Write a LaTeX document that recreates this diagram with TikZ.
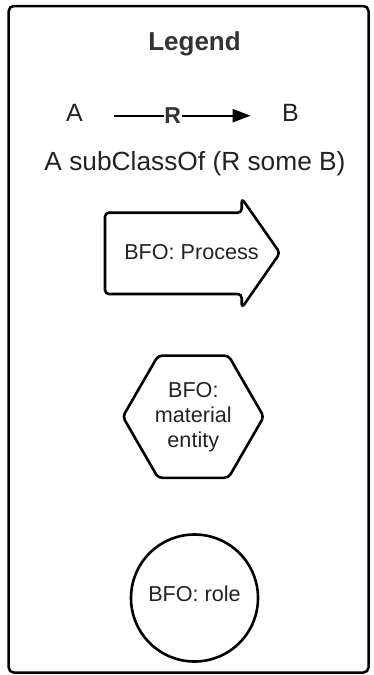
\documentclass[tikz,border=0pt]{standalone}
\usepackage{fontspec}
\setmainfont{Liberation Sans}
\usetikzlibrary{arrows.meta}
\definecolor{txt}{HTML}{222222}
\definecolor{ttl}{HTML}{333333}
\tikzset{
  frame/.style={draw=black, line width=2.5pt, rounded corners=5pt},
  shapeline/.style={draw=black, line width=2.6pt, rounded corners=4pt, line join=round},
  lbl/.style={inner sep=0pt, anchor=base, text=txt, font=\fontsize{21.6}{25}\selectfont},
  big/.style={inner sep=0pt, anchor=base, text=txt, font=\fontsize{25}{30}\selectfont},
  rel/.style={line width=2pt, -{Triangle[length=18pt,width=13pt]}}
}
\begin{document}
\begin{tikzpicture}[x=1pt,y=-1pt]
\useasboundingbox (0,0) rectangle (373,675);
% frame
\draw[frame] (8.7,6) rectangle (368.5,672.5);
% title
\node[big, text=ttl, font=\fontsize{26}{30}\selectfont\bfseries] (title) at (194.5,50.7) {Legend};
% relation row
\node[big] (A) at (74.5,121.5) {A};
\node[big] (B) at (290.5,121.5) {B};
\coordinate (as) at (114,115.7);
\coordinate (bs) at (250.7,115.7);
\draw[rel] (as) -- (bs) node[pos=0.43, fill=white, inner sep=0.6pt, text=ttl, font=\fontsize{23}{28}\selectfont\bfseries] (R) {R};
\node[big, font=\fontsize{26.3}{30}\selectfont] (sub) at (195,170) {A subClassOf (R some B)};
% process arrow
\draw[shapeline] (105,212.7) -- (241.7,212.7) -- (241.7,198.3) -- (280,253) -- (241.7,308) -- (241.7,294) -- (105,294) -- cycle;
\node[lbl] (proc) at (191.5,259) {BFO: Process};
% hexagon
\draw[shapeline] (263.8,416.7) -- (228.5,355.6) -- (158.1,355.6) -- (122.8,416.7) -- (158.1,477.8) -- (228.5,477.8) -- cycle;
\node[lbl] (m1) at (193.3,397) {BFO:};
\node[lbl] (m2) at (193.3,422.5) {material};
\node[lbl] (m3) at (193.3,447) {entity};
% circle
\draw[draw=black, line width=2.6pt] (194.5,598) circle[radius=63.5];
\node[lbl] (role) at (194.5,601.7) {BFO: role};
\end{tikzpicture}
\end{document}
